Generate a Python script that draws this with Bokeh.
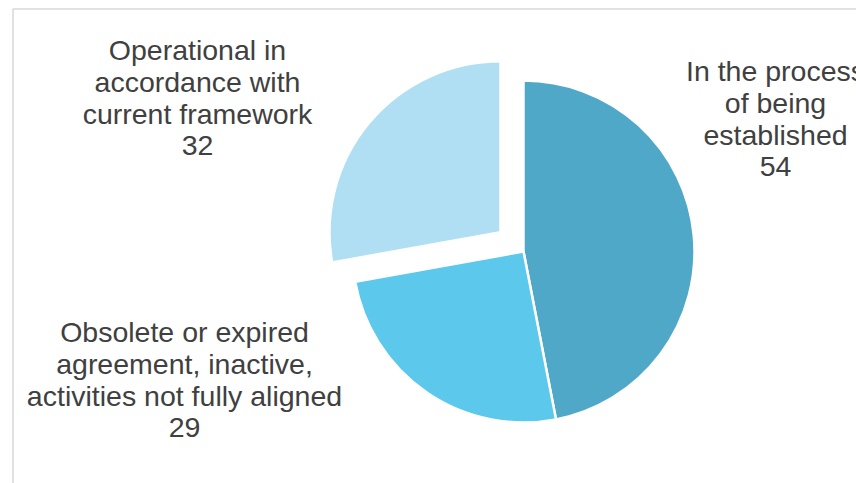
import math
from bokeh.plotting import figure
from bokeh.models import Range1d, ColumnDataSource
from bokeh.core.properties import value
from bokeh.embed import file_html
from bokeh.resources import INLINE

# ---- data ----
categories = [
    "In the process\nof being\nestablished",
    "Obsolete or expired\nagreement, inactive,\nactivities not fully aligned",
    "Operational in\naccordance with\ncurrent framework",
]
counts = [54, 29, 32]
colors = ["#4FA8C7", "#5BC8EC", "#B0DFF4"]
exploded = [0, 0, 1]

# ---- layout (pixel space of the 856x483 canvas, y measured from top) ----
W, H = 856, 483
center_px = (523, 251)
radius = 171
explode_dist = 30
label_anchor_px = [(775, 70), (184, 331), (197, 49)]  # centre x, first baseline
line_gap = 32

p = figure(width=W, height=H, output_backend="svg", toolbar_location=None,
           x_range=Range1d(0, W), y_range=Range1d(0, H), min_border=0,
           tools="")
p.axis.visible = False
p.grid.visible = False
p.outline_line_color = None
p.background_fill_color = "white"
p.border_fill_color = "white"

# chart area frame
p.quad(left=[12.5], right=[W + 20], top=[H - 8.5], bottom=[-20],
       fill_color=None, line_color="#D9D9D9", line_width=1.5)

total = sum(counts)
cx, cy = center_px[0], H - center_px[1]
xs, ys, starts, ends = [], [], [], []
cum = 0
for c, ex in zip(counts, exploded):
    a0 = math.pi / 2 - cum / total * 2 * math.pi
    cum += c
    a1 = math.pi / 2 - cum / total * 2 * math.pi
    mid = (a0 + a1) / 2
    d = explode_dist * ex
    xs.append(cx + d * math.cos(mid))
    ys.append(cy + d * math.sin(mid))
    starts.append(a0)
    ends.append(a1)

src = ColumnDataSource(dict(x=xs, y=ys, start=starts, end=ends, color=colors))
p.wedge(x="x", y="y", radius=radius, start_angle="start", end_angle="end",
        direction="clock", fill_color="color", line_color="white",
        line_width=2.5, source=src)

# labels
tx, ty, tt = [], [], []
for cat, c, (ax, ay) in zip(categories, counts, label_anchor_px):
    lines = cat.split("\n") + [str(c)]
    for i, ln in enumerate(lines):
        tx.append(ax)
        ty.append(H - (ay + i * line_gap))
        tt.append(ln)

p.text(x=tx, y=ty, text=tt, text_align="center", text_baseline="alphabetic",
       text_font=value("Liberation Sans"), text_font_size="28.5px",
       text_color="#404040")

open("out.html", "w").write(file_html(p, INLINE))
